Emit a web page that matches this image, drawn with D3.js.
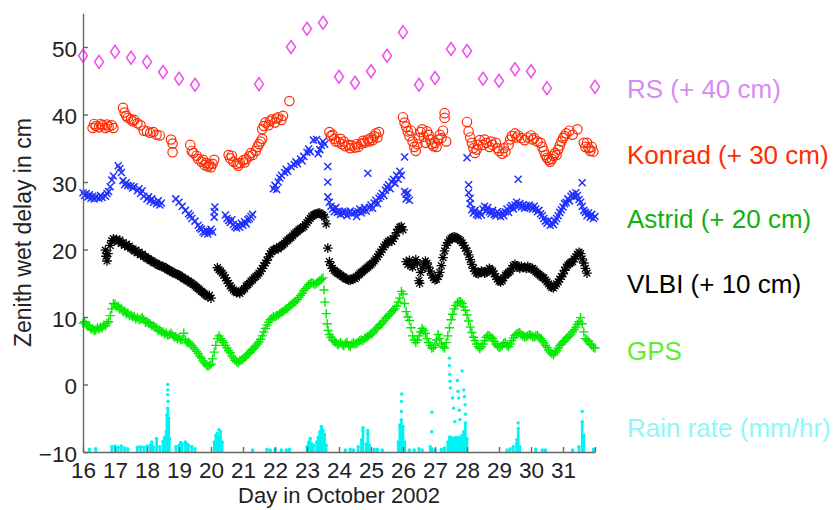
<!DOCTYPE html>
<html>
<head>
<meta charset="utf-8">
<script src="https://cdn.jsdelivr.net/npm/d3@7"></script>
<style>
	body { margin: 0; background: #fff; }
	svg { display: block; font-family: 'Liberation Sans', Arial, Helvetica, sans-serif; }
</style>
</head>
<body>
<svg width="838" height="510"></svg>
<script>
// [day in October 2002, zenith wet delay in cm incl. offset]
let rsPoints = [
	[16.0,48.7],[16.5,47.8],[17.0,49.3],[17.5,48.4],[18.0,47.8],[18.5,46.3],[19.0,45.3],[19.5,44.4],
	[21.5,44.5],[22.5,50.0],[23.0,52.7],[23.5,53.6],[24.0,45.6],[24.5,44.7],[25.0,46.4],[25.5,48.7],
	[26.0,52.2],[26.5,44.4],[27.0,45.4],[27.5,49.7],[28.0,49.4],[28.5,45.3],[29.0,45.0],[29.5,46.7],
	[30.0,46.4],[30.5,43.9],[32.0,44.1]
]

let konradPoints = [
	[16.3,38.0],[16.35,38.6],[16.4,38.3],[16.5,38.1],[16.55,38.6],[16.6,38.4],[16.7,38.0],[16.75,38.5],[16.8,38.2],[16.9,38.4],[16.95,38.0],
	[17.25,41.0],[17.3,40.3],[17.35,39.8],[17.4,39.5],[17.5,39.3],[17.55,39.0],[17.6,39.2],[17.7,38.7],[17.8,38.4],[17.9,37.6],[18.0,37.5],
	[18.1,37.3],[18.2,37.4],[18.3,37.0],[18.4,36.9],[18.75,36.3],[18.8,35.7],[18.8,34.4],
	[19.35,35.5],[19.4,34.6],[19.45,34.3],[19.55,33.9],[19.6,33.4],[19.7,33.0],[19.75,33.3],[19.8,32.5],[19.85,32.8],[19.9,32.3],[19.95,32.6],
	[20.0,32.2],[20.05,32.7],[20.1,33.3],
	[20.55,34.0],[20.6,33.5],[20.65,33.9],[20.7,33.0],[20.8,32.7],[20.85,32.4],[20.9,32.8],[21.0,33.2],[21.05,32.9],[21.1,33.4],[21.2,33.8],
	[21.25,34.3],[21.3,34.0],[21.4,34.6],[21.45,35.2],[21.5,35.6],[21.55,36.0],[21.6,36.4],
	[21.6,37.8],[21.65,38.3],[21.7,38.8],[21.8,38.4],[21.85,39.0],[21.9,39.3],[22.0,38.8],[22.05,39.4],[22.1,39.6],[22.2,39.2],[22.25,39.8],[22.45,42.0],
	[23.7,37.4],[23.75,36.8],[23.8,37.0],[23.85,36.4],[23.9,36.0],[24.0,35.9],[24.05,36.4],[24.1,35.6],[24.15,36.0],[24.2,35.3],[24.3,35.5],
	[24.35,35.0],[24.4,35.4],[24.5,35.1],[24.55,35.6],[24.6,35.2],[24.7,35.7],[24.75,36.1],[24.8,35.8],[24.9,36.3],[24.95,36.0],[25.0,36.5],
	[25.05,36.2],[25.1,36.8],[25.15,37.2],[25.2,36.6],[25.25,37.4],
	[26.0,39.6],[26.05,38.8],[26.1,38.2],[26.15,37.5],[26.2,36.8],[26.25,37.6],[26.3,36.0],[26.35,35.2],[26.4,34.6],[26.45,35.6],[26.5,36.5],
	[26.55,37.4],[26.6,37.8],[26.65,36.7],[26.7,35.8],[26.75,37.5],[26.8,37.0],[26.85,36.3],[26.9,35.6],[26.95,35.3],[27.0,35.8],[27.05,35.2],
	[27.1,36.3],[27.15,37.0],[27.2,36.5],[27.25,37.6],[27.3,39.5],[27.3,40.2],[27.35,36.0],
	[28.0,38.9],[28.05,37.5],[28.1,36.6],[28.15,35.8],[28.2,35.0],[28.25,34.3],[28.3,34.8],[28.35,35.5],[28.4,36.2],[28.5,35.5],[28.55,36.3],
	[28.6,35.8],[28.7,35.2],[28.75,36.0],[28.8,35.5],[28.9,35.8],[28.95,35.0],[29.0,34.6],[29.1,34.2],[29.15,35.0],[29.2,34.5],[29.3,35.5],
	[29.35,36.3],[29.4,36.8],[29.5,37.2],[29.55,36.6],[29.6,36.9],[29.7,36.5],[29.8,36.2],[29.9,36.6],[30.0,36.9],[30.05,36.3],[30.1,36.5],
	[30.2,36.0],[30.3,35.8],[30.35,35.2],[30.4,34.6],[30.45,34.0],[30.5,33.6],[30.55,33.3],[30.6,33.0],[30.65,33.4],[30.7,33.9],[30.75,34.3],
	[30.8,34.0],[30.85,34.8],[30.9,35.4],[30.95,36.0],[31.0,36.5],[31.05,36.8],[31.1,37.2],[31.2,37.6],[31.3,37.0],[31.45,37.8],
	[31.65,35.8],[31.7,35.2],[31.75,35.8],[31.8,35.0],[31.85,34.6],[31.9,35.2],[31.95,34.5]
]

let astridPoints = [
	[16.0,28.4],[16.05,28.0],[16.1,28.3],[16.15,27.8],[16.2,28.1],[16.25,27.6],[16.3,27.9],[16.35,27.5],[16.4,27.8],[16.5,27.6],[16.55,28.0],
	[16.6,27.7],[16.7,27.9],[16.75,28.3],[16.8,28.6],[16.85,29.3],[16.9,30.3],[16.95,30.9],
	[17.1,32.4],[17.15,32.0],[17.2,31.4],[17.25,30.2],[17.3,29.6],[17.35,29.9],[17.4,29.5],[17.5,29.4],[17.55,29.1],[17.6,29.3],[17.7,28.7],
	[17.75,29.0],[17.8,28.3],[17.85,28.7],[17.9,27.9],[18.0,27.5],[18.05,27.8],[18.1,27.2],[18.15,27.5],[18.2,27.0],[18.3,26.8],[18.35,27.2],
	[18.4,26.6],[18.45,26.9],
	[18.9,27.5],[19.0,27.0],[19.1,26.4],[19.2,25.8],[19.3,25.3],[19.35,25.0],[19.4,24.6],[19.5,24.2],[19.6,23.6],[19.65,23.2],[19.7,23.0],
	[19.75,22.6],[19.8,22.4],[19.85,22.8],[19.9,22.3],[19.95,22.7],[20.0,23.0],[20.05,22.6],[20.1,24.8],[20.1,25.6],[20.12,26.3],
	[20.45,25.1],[20.5,24.6],[20.55,24.3],[20.6,24.0],[20.65,24.4],[20.7,23.7],[20.75,23.4],[20.8,23.2],[20.85,23.6],[20.9,23.3],[20.95,23.9],
	[21.0,23.6],[21.05,24.1],[21.1,23.8],[21.15,24.4],[21.2,24.6],[21.25,24.9],[21.3,25.2],
	[21.95,29.0],[22.0,29.5],[22.05,28.9],[22.1,30.0],[22.15,30.6],[22.2,31.0],[22.3,31.4],[22.35,31.9],[22.4,31.6],[22.5,32.3],[22.6,32.6],
	[22.65,33.0],[22.7,32.7],[22.8,33.4],[22.85,33.1],[22.9,33.8],[23.0,34.4],[23.05,34.9],[23.1,34.5],[23.2,36.2],[23.3,36.3],[23.35,34.2],
	[23.4,34.8],[23.45,35.4],[23.5,36.0],[23.55,35.6],[23.65,32.3],[23.65,30.0],[23.65,27.8],
	[23.7,27.0],[23.75,26.4],[23.8,26.0],[23.85,25.6],[23.9,26.2],[23.95,25.5],[24.0,25.7],[24.05,25.2],[24.1,25.6],[24.15,25.3],[24.2,25.6],
	[24.25,25.0],[24.3,25.4],[24.35,25.7],[24.4,25.3],[24.5,25.5],[24.55,24.9],[24.6,25.6],[24.65,26.0],[24.7,25.4],[24.75,25.8],[24.8,26.2],
	[24.85,25.7],[24.9,31.3],[24.95,26.2],[25.0,26.6],[25.05,26.1],[25.1,26.9],[25.15,27.3],[25.2,26.8],[25.25,27.6],[25.3,27.9],[25.35,28.3],
	[25.4,28.0],[25.45,28.8],[25.5,29.2],[25.55,29.6],[25.6,29.0],[25.65,30.0],[25.7,30.4],[25.75,29.8],[25.8,31.0],[25.85,30.4],[25.9,31.6],
	[25.95,31.0],[26.05,33.7],[26.05,28.6],[26.1,28.2],[26.1,27.5],[26.15,28.4],[26.2,27.3],
	[28.0,33.6],[28.05,29.6],[28.05,28.4],[28.1,27.6],[28.1,26.8],[28.15,25.9],[28.2,25.4],[28.25,25.8],[28.3,25.2],[28.35,25.0],[28.4,25.5],
	[28.45,25.1],[28.5,26.0],[28.55,26.4],[28.6,25.7],[28.65,26.2],[28.7,25.6],[28.75,25.3],[28.8,25.8],[28.85,25.2],[28.9,25.0],[28.95,25.6],
	[29.0,25.3],[29.05,24.9],[29.1,25.4],[29.15,25.0],[29.2,25.6],[29.25,26.0],[29.3,25.5],[29.35,26.2],[29.4,26.5],[29.45,26.0],[29.5,26.6],
	[29.55,27.0],[29.6,26.4],[29.6,30.4],[29.65,26.8],[29.7,26.3],[29.75,26.6],[29.8,26.1],[29.85,26.5],[29.9,26.2],[29.95,26.6],[30.0,26.3],
	[30.05,26.0],[30.1,26.4],[30.15,26.0],[30.2,25.6],[30.25,25.8],[30.3,25.3],[30.35,25.0],[30.4,24.6],[30.45,24.2],[30.5,23.9],[30.55,24.3],
	[30.6,23.6],[30.65,24.0],[30.7,23.7],[30.75,24.2],[30.8,24.6],[30.85,25.0],[30.9,25.5],[30.95,25.9],[31.0,26.3],[31.05,26.8],[31.1,27.0],
	[31.15,27.5],[31.2,27.2],[31.25,27.9],[31.3,28.2],[31.35,27.8],[31.4,28.4],[31.45,28.0],[31.6,29.9],[31.5,27.4],[31.55,27.0],[31.6,26.4],
	[31.65,25.8],[31.7,25.5],[31.75,25.0],[31.8,25.4],[31.85,24.8],[31.9,25.2],[31.95,24.6],[32.0,24.9]
]

let vlbiPoints = [
	[16.7,19.9],[16.72,19.0],[16.75,18.3],[16.78,19.4],[16.85,20.6],[16.9,21.3],[16.95,21.6],[17.0,21.4],[17.05,21.5],[17.1,21.2],[17.15,21.4],
	[17.2,20.9],[17.25,21.0],[17.3,20.6],[17.35,20.8],[17.4,20.4],[17.45,20.5],[17.5,20.2],[17.55,20.0],[17.6,19.8],[17.65,19.9],[17.7,19.5],
	[17.75,19.6],[17.8,19.2],[17.85,19.3],[17.9,19.0],[17.95,18.9],[18.0,18.7],[18.05,18.6],[18.1,18.4],[18.15,18.3],[18.2,18.1],[18.25,18.0],
	[18.3,17.9],[18.35,17.7],[18.4,17.6],[18.45,17.5],[18.5,17.5],[18.55,17.3],[18.6,17.2],[18.65,17.0],[18.7,16.9],[18.75,16.8],[18.8,16.6],
	[18.85,16.5],[18.9,16.4],[18.95,16.3],[19.0,16.2],[19.05,16.0],[19.1,15.9],[19.15,15.7],[19.2,15.6],[19.25,15.4],[19.3,15.3],[19.35,15.1],
	[19.4,15.0],[19.45,14.8],[19.5,14.6],[19.55,14.4],[19.6,14.2],[19.65,14.0],[19.7,13.8],[19.75,13.6],[19.8,13.4],[19.85,13.2],[19.9,13.0],
	[19.95,13.2],[20.0,12.8],
	[20.2,17.3],[20.25,17.0],[20.3,16.8],[20.35,16.5],[20.4,16.2],[20.45,15.8],[20.5,15.4],[20.55,15.0],[20.6,14.6],[20.65,14.3],[20.7,14.0],
	[20.75,13.8],[20.8,13.6],[20.85,13.7],[20.9,13.5],[20.95,13.8],[21.0,14.0],[21.05,14.2],[21.1,14.6],[21.15,14.8],[21.2,15.0],[21.25,15.3],
	[21.3,15.5],[21.35,15.8],[21.4,16.0],[21.45,16.2],[21.5,16.5],[21.55,16.8],[21.6,17.2],[21.65,17.6],[21.7,18.0],[21.75,18.4],[21.8,18.9],
	[21.85,19.4],[21.9,19.7],[21.95,19.9],[22.0,20.0],[22.05,20.2],[22.1,20.1],[22.15,20.4],[22.2,20.5],[22.25,20.7],[22.3,20.9],[22.35,21.2],
	[22.4,21.4],[22.45,21.6],[22.5,21.8],[22.55,22.0],[22.6,22.3],[22.65,22.5],[22.7,22.7],[22.75,22.9],[22.8,23.1],[22.85,23.2],[22.9,23.4],
	[22.95,23.7],[23.0,24.0],[23.05,24.3],[23.1,24.6],[23.15,24.9],[23.2,25.1],[23.25,25.2],[23.3,25.3],[23.35,25.4],[23.4,25.4],[23.45,25.2],
	[23.5,25.1],[23.55,24.8],[23.6,23.8],
	[23.65,20.2],[23.7,18.2],[23.75,17.6],[23.8,17.2],[23.85,16.9],[23.9,16.7],[23.95,16.5],[24.0,16.4],[24.05,16.2],[24.1,16.0],[24.15,15.9],
	[24.2,15.7],[24.25,15.6],[24.3,15.5],[24.35,15.4],[24.4,15.6],[24.45,15.8],[24.5,15.7],[24.55,15.9],[24.6,16.2],[24.65,16.4],[24.7,16.6],
	[24.75,16.8],[24.8,17.0],[24.85,17.2],[24.9,17.4],[24.95,17.6],[25.0,17.8],[25.05,18.0],[25.1,18.3],[25.15,18.6],[25.2,18.9],[25.25,19.3],
	[25.3,19.6],[25.35,20.0],[25.4,20.4],[25.45,20.7],[25.5,21.0],[25.55,21.2],[25.6,21.4],[25.65,21.2],[25.7,21.6],[25.75,22.0],[25.8,22.5],
	[25.85,23.0],[25.9,23.3],[25.95,23.4],[26.0,22.9],
	[26.1,18.2],[26.15,17.8],[26.2,18.4],[26.25,17.6],[26.3,17.4],[26.35,18.0],[26.4,18.5],[26.45,18.0],[26.5,15.4],[26.52,15.0],[26.55,16.6],
	[26.6,17.2],[26.65,17.8],[26.7,18.3],[26.75,18.0],[26.8,17.4],[26.85,16.8],[26.9,16.2],[26.95,15.8],[27.0,15.5],[27.05,15.6],[27.1,16.0],
	[27.15,16.6],[27.2,17.6],[27.25,18.8],[27.3,19.8],[27.35,20.6],[27.4,21.0],[27.45,21.4],[27.5,21.6],[27.55,21.8],[27.6,21.9],[27.65,21.8],
	[27.7,21.6],[27.75,21.5],[27.8,21.3],[27.85,21.0],[27.9,20.6],[27.95,20.2],[28.0,19.8],[28.05,19.2],[28.1,18.5],[28.15,17.8],[28.2,17.2],
	[28.25,16.8],[28.3,16.5],[28.35,16.4],[28.4,16.6],[28.45,16.8],[28.5,16.7],[28.55,16.5],[28.6,16.6],[28.65,16.9],[28.7,17.2],[28.75,17.0],
	[28.8,16.8],[28.85,16.4],[28.9,16.0],[28.95,15.6],[29.0,15.3],[29.05,15.2],[29.1,15.4],[29.15,15.8],[29.2,16.2],[29.25,16.4],[29.3,16.6],
	[29.35,16.8],[29.4,17.2],[29.45,17.6],[29.5,17.8],[29.55,17.6],[29.6,17.4],[29.65,17.2],[29.7,17.5],[29.75,17.3],[29.8,17.4],[29.85,17.2],
	[29.9,17.5],[29.95,17.3],[30.0,17.1],[30.05,17.2],[30.1,17.0],[30.15,16.7],[30.2,16.5],[30.25,16.3],[30.3,16.1],[30.35,15.9],[30.4,15.8],
	[30.45,15.5],[30.5,15.2],[30.55,14.9],[30.6,14.6],[30.65,14.4],[30.7,14.3],[30.75,14.6],[30.8,14.9],[30.85,15.2],[30.9,15.6],[30.95,16.0],
	[31.0,16.4],[31.05,16.9],[31.1,17.4],[31.15,17.7],[31.2,17.9],[31.25,18.1],[31.3,18.2],[31.35,18.6],[31.4,18.9],[31.45,19.3],[31.5,19.6],
	[31.55,19.4],[31.6,18.6],[31.65,18.0],[31.7,17.2],[31.75,16.5]
]

let gpsPoints = [
	[16.0,9.1],[16.05,9.3],[16.1,8.9],[16.15,8.6],[16.2,8.6],[16.25,8.2],[16.3,8.3],[16.35,8.0],[16.4,8.1],[16.45,8.4],[16.5,8.2],[16.55,8.5],
	[16.6,8.4],[16.65,8.8],[16.7,8.7],[16.75,9.1],[16.8,9.3],[16.85,10.2],[16.9,11.2],[16.95,12.0],[17.0,11.9],[17.05,11.5],[17.1,11.6],
	[17.15,11.2],[17.2,11.2],[17.25,10.8],[17.3,10.9],[17.35,10.5],[17.4,10.6],[17.45,10.2],[17.5,10.3],[17.55,10.0],[17.6,10.1],[17.65,9.7],
	[17.7,9.9],[17.75,9.6],[17.8,9.7],[17.85,9.9],[17.9,9.6],[17.95,9.2],[18.0,9.3],[18.05,9.1],[18.1,9.0],[18.15,8.7],[18.2,8.7],[18.25,8.5],
	[18.3,8.4],[18.35,8.0],[18.4,8.1],[18.45,7.8],[18.5,7.8],[18.55,7.5],[18.6,7.6],[18.65,7.3],[18.7,7.4],[18.75,7.6],[18.8,7.3],[18.85,7.0],
	[18.9,7.1],[18.95,6.8],[19.0,6.9],[19.05,6.6],[19.1,6.7],[19.15,7.6],[19.2,6.6],[19.25,6.2],[19.3,6.3],[19.35,6.0],[19.4,5.8],[19.45,5.5],
	[19.5,5.2],[19.55,4.9],[19.6,4.6],[19.65,4.2],[19.7,3.9],[19.75,3.5],[19.8,3.2],[19.85,2.9],[19.9,2.7],[19.95,2.8],[20.0,3.0],[20.05,3.8],
	[20.1,4.8],[20.15,5.8],[20.2,6.8],[20.25,7.2],[20.3,6.8],[20.35,6.5],[20.4,6.2],[20.45,5.8],[20.5,5.4],[20.55,5.0],[20.6,4.7],[20.65,4.2],
	[20.7,3.9],[20.75,3.6],[20.8,3.4],[20.85,3.2],[20.9,3.5],[20.95,3.6],[21.0,3.8],[21.05,4.0],[21.1,4.2],[21.15,4.5],[21.2,4.7],[21.25,5.0],
	[21.3,5.2],[21.35,5.4],[21.4,5.7],[21.45,6.0],[21.5,6.3],[21.55,6.7],[21.6,7.2],[21.65,7.8],[21.7,8.3],[21.75,8.8],[21.8,9.2],[21.85,9.6],
	[21.9,9.8],[21.95,10.1],[22.0,10.0],[22.05,10.2],[22.1,10.3],[22.15,10.5],[22.2,10.7],[22.25,10.8],[22.3,11.0],[22.35,11.2],[22.4,11.3],
	[22.45,11.6],[22.5,11.8],[22.55,12.0],[22.6,12.2],[22.65,12.3],[22.7,12.6],[22.75,12.9],[22.8,13.2],[22.85,13.5],[22.9,13.9],[22.95,14.2],
	[23.0,14.5],[23.05,14.8],[23.1,14.9],[23.15,15.1],[23.2,15.0],[23.25,14.8],[23.3,15.0],[23.35,15.2],[23.4,15.4],[23.45,15.6],[23.5,15.8],
	[23.53,14.0],[23.56,12.2],[23.6,10.5],[23.63,9.0],[23.66,8.0],[23.7,7.4],[23.75,7.0],[23.8,6.6],[23.85,6.4],[23.9,6.2],[23.95,5.9],
	[24.0,6.0],[24.05,6.2],[24.1,5.9],[24.15,5.7],[24.2,6.1],[24.25,6.3],[24.3,5.8],[24.35,5.6],[24.4,6.0],[24.45,6.2],[24.5,6.0],[24.55,6.1],
	[24.6,6.3],[24.65,6.5],[24.7,6.6],[24.75,6.5],[24.8,6.8],[24.85,7.0],[24.9,7.1],[24.95,7.3],[25.0,7.5],[25.05,7.6],[25.1,7.9],[25.15,8.2],
	[25.2,8.4],[25.25,8.7],[25.3,8.9],[25.35,9.1],[25.4,9.4],[25.45,9.8],[25.5,10.0],[25.55,10.2],[25.6,10.5],[25.65,10.8],[25.7,11.0],
	[25.75,11.2],[25.8,11.6],[25.85,12.2],[25.9,12.8],[25.95,13.8],[26.0,13.4],[26.05,12.0],[26.1,10.8],[26.15,10.0],[26.2,9.5],[26.25,8.4],
	[26.3,7.2],[26.35,6.6],[26.4,6.2],[26.45,6.6],[26.5,7.2],[26.55,7.8],[26.6,8.3],[26.65,8.0],[26.7,7.6],[26.75,6.8],[26.8,6.2],[26.85,5.8],
	[26.9,5.4],[26.95,5.5],[27.0,5.8],[27.05,6.6],[27.1,7.4],[27.15,6.8],[27.2,6.0],[27.25,5.6],[27.3,5.4],[27.35,6.2],[27.4,7.2],[27.45,8.4],
	[27.5,9.6],[27.55,10.4],[27.6,11.2],[27.65,11.7],[27.7,12.1],[27.75,12.3],[27.8,12.3],[27.85,12.0],[27.9,11.5],[27.95,11.0],[28.0,10.3],
	[28.05,9.4],[28.1,8.5],[28.15,7.7],[28.2,7.0],[28.25,6.5],[28.3,6.0],[28.35,5.6],[28.4,5.3],[28.45,5.6],[28.5,6.0],[28.55,6.5],[28.6,7.0],
	[28.65,7.3],[28.7,7.2],[28.75,7.0],[28.8,6.8],[28.85,6.4],[28.9,6.0],[28.95,5.7],[29.0,5.5],[29.05,5.6],[29.1,5.8],[29.15,6.1],[29.2,6.2],
	[29.25,5.8],[29.3,5.6],[29.35,6.0],[29.4,6.5],[29.45,6.9],[29.5,7.3],[29.55,7.5],[29.6,7.6],[29.65,7.7],[29.7,7.4],[29.75,7.2],[29.8,7.0],
	[29.85,7.1],[29.9,7.2],[29.95,7.4],[30.0,7.3],[30.05,7.1],[30.1,7.0],[30.15,7.2],[30.2,7.3],[30.25,7.0],[30.3,6.8],[30.35,6.5],[30.4,6.2],
	[30.45,5.8],[30.5,5.5],[30.55,5.1],[30.6,4.8],[30.65,4.6],[30.7,4.4],[30.75,4.7],[30.8,5.0],[30.85,5.4],[30.9,5.8],[30.95,6.0],[31.0,6.3],
	[31.05,6.5],[31.1,6.8],[31.15,7.0],[31.2,7.2],[31.25,7.5],[31.3,7.8],[31.35,8.1],[31.4,8.5],[31.45,8.9],[31.5,9.3],[31.55,9.9],[31.6,9.0],
	[31.65,7.8],[31.7,6.8],[31.75,6.6],[31.8,6.4],[31.85,6.0],[31.9,5.8],[31.95,5.5],[32.0,5.4]
]

// [day, rain rate in mm/hr], drawn from rainBase upward
let rainBars = [
	[16.2,0.4],[16.4,0.5],[16.9,0.8],[17.0,0.9],[17.1,0.7],[17.2,0.9],[17.3,0.6],[17.4,0.5],
	[17.7,0.7],[17.8,0.8],[17.9,0.7],[18.0,0.9],[18.1,1.0],[18.15,1.5],[18.2,0.8],[18.3,2.0],[18.4,0.8],
	[18.5,1.6],[18.55,2.2],[18.6,3.0],[18.62,5.5],[18.65,6.5],[18.68,5.0],[18.7,2.0],
	[18.9,0.8],[19.0,1.0],[19.05,1.4],[19.1,1.2],[19.2,1.5],[19.25,1.2],[19.3,1.0],[19.4,0.8],[19.5,0.5],
	[20.1,1.5],[20.15,2.5],[20.2,2.8],[20.25,2.2],[20.3,3.0],[20.35,1.5],
	[21.3,0.3],[21.75,0.4],[21.85,0.3],[22.0,0.4],[22.2,0.3],[22.35,0.3],[22.45,0.4],
	[23.0,0.8],[23.05,1.5],[23.1,2.0],[23.15,1.2],[23.2,1.0],[23.3,1.5],[23.35,2.2],[23.4,3.0],[23.45,3.5],[23.5,3.2],[23.55,2.6],[23.6,1.0],
	[24.2,0.3],[24.35,0.4],[24.45,0.3],[24.6,0.8],[24.7,1.8],[24.75,3.2],[24.85,1.2],[24.9,2.8],[24.95,1.0],[25.1,0.4],[25.2,0.4],[25.35,0.3],
	[25.85,1.5],[25.9,4.0],[25.95,4.8],[26.0,3.8],[26.05,1.5],
	[26.2,0.3],[26.35,0.3],[26.5,0.5],[26.6,0.3],[26.85,0.8],[26.9,0.5],[27.0,0.3],[27.2,0.4],[27.3,0.6],
	[27.4,1.5],[27.45,2.2],[27.5,2.2],[27.55,2.0],[27.6,2.0],[27.65,2.2],[27.7,2.0],[27.75,2.2],[27.8,2.0],[27.85,2.5],[27.9,3.0],[27.95,4.3],[28.0,2.0],
	[29.25,0.3],[29.35,0.5],[29.45,0.8],[29.55,1.3],[29.6,3.5],[29.65,0.8],
	[30.15,0.4],[30.35,0.3],[30.45,0.3],[31.3,0.3],[31.5,0.8],[31.6,4.5],[31.65,2.5],[31.95,0.4]
]

let rainDots = [
	[18.65,8.5],[18.65,9.2],[18.65,10.0],[18.66,7.5],[20.25,3.3],[23.45,3.8],[24.75,3.6],[24.9,3.2],
	[25.95,6.0],[25.95,7.5],[25.96,8.6],[26.9,5.9],[26.9,3.0],
	[27.45,13.9],[27.45,12.8],[27.46,11.5],[27.47,10.5],[27.48,9.5],[27.55,8.0],[27.58,6.5],[27.62,4.5],
	[27.7,10.6],[27.72,9.0],[27.74,8.0],[27.76,6.2],[27.78,4.8],[27.85,12.0],[27.9,9.2],[27.92,8.2],[27.94,7.0],[27.95,5.6],
	[29.6,4.3],[29.55,1.8],[31.6,6.0]
]
let rainBase = -10

let dayTicks = [16,17,18,19,20,21,22,23,24,25,26,27,28,29,30,31,32]
let dayLabels = ['16','17','18','19','20','21','22','23','24','25','26','27','28','29','30','31','']
let delayTicks = [-10,0,10,20,30,40,50]

let seriesNames = ['RS (+ 40 cm)', 'Konrad (+ 30 cm)', 'Astrid (+ 20 cm)', 'VLBI (+ 10 cm)', 'GPS', 'Rain rate (mm/hr)']
let labelColors = ['#d68cf2', '#ff2d00', '#10b010', '#000000', '#5eee2e', '#8ef8f8']
let labelLevels = [43.8, 34.1, 24.5, 14.9, 5.0, -6.4]

let svg = d3.select('svg')
let x = d3.scaleLinear().domain([16, 32]).range([83, 595])
let y = d3.scaleLinear().domain([-10, 55]).range([452, 13.25])

let plot = svg.append('g')

function markers(points, shape, color, width) {
	plot.append('g')
		.selectAll('path')
		.data(points)
		.join('path')
		.attr('transform', d => 'translate(' + x(d[0]) + ',' + y(d[1]) + ')')
		.attr('d', shape)
		.attr('fill', 'none')
		.attr('stroke', color)
		.attr('stroke-width', width)
}

let diamond = 'M0,-6.5L4.5,0L0,6.5L-4.5,0Z'
let circle = 'M4.7,0A4.7,4.7 0 1,1 -4.7,0A4.7,4.7 0 1,1 4.7,0Z'
let cross = 'M-3.5,-3.5L3.5,3.5M-3.5,3.5L3.5,-3.5'
let asterisk = 'M-4.8,0H4.8M0,-4.8V4.8M-3.4,-3.4L3.4,3.4M-3.4,3.4L3.4,-3.4'
let plus = 'M-4.6,0H4.6M0,-4.6V4.6'

markers(rsPoints, diamond, '#f04cf0', 1.5)
markers(konradPoints, circle, '#ff2a00', 1.2)
markers(astridPoints, cross, '#1f30ff', 1.5)
markers(vlbiPoints, asterisk, '#000000', 1.3)
markers(gpsPoints, plus, '#00ea00', 1.4)

plot.append('g')
	.selectAll('line')
	.data(rainBars)
	.join('line')
	.attr('x1', d => x(d[0]))
	.attr('x2', d => x(d[0]))
	.attr('y1', y(rainBase))
	.attr('y2', d => y(rainBase + d[1]))
	.attr('stroke', '#00f2f2')
	.attr('stroke-width', 2.6)

plot.append('g')
	.selectAll('circle')
	.data(rainBars.concat(rainDots))
	.join('circle')
	.attr('cx', d => x(d[0]))
	.attr('cy', d => y(rainBase + d[1]))
	.attr('r', 1.7)
	.attr('fill', '#00f2f2')

let yAxis = svg.append('g')
	.attr('transform', 'translate(83,0)')
	.call(d3.axisLeft(y).tickValues(delayTicks).tickSizeInner(-5).tickSizeOuter(0).tickPadding(6)
		.tickFormat(d => d < 0 ? '\u2212' + Math.abs(d) : String(d)))

let xAxis = svg.append('g')
	.attr('transform', 'translate(0,452)')
	.call(d3.axisBottom(x).tickValues(dayTicks).tickSizeInner(-5).tickSizeOuter(0).tickPadding(10)
		.tickFormat((d, i) => dayLabels[i]))

for (let axis of [yAxis, xAxis]) {
	axis.attr('font-size', 22.5).attr('font-family', null)
	axis.selectAll('path, line').attr('stroke', '#666').attr('stroke-width', 1.4)
	axis.selectAll('text').attr('fill', '#222')
}
yAxis.selectAll('text').attr('dy', '0.42em')

svg.append('text')
	.attr('x', (x.range()[0] + x.range()[1]) / 2)
	.attr('y', 503)
	.attr('text-anchor', 'middle')
	.attr('font-size', 22)
	.attr('fill', '#222')
	.text('Day in October 2002')

svg.append('text')
	.attr('transform', 'translate(31,' + (y.range()[0] + y.range()[1]) / 2 + ') rotate(-90)')
	.attr('text-anchor', 'middle')
	.attr('font-size', 23)
	.attr('fill', '#222')
	.text('Zenith wet delay in cm')

svg.append('g')
	.selectAll('text')
	.data(seriesNames)
	.join('text')
	.attr('x', 627)
	.attr('y', (d, i) => y(labelLevels[i]))
	.attr('dy', '0.36em')
	.attr('font-size', 26)
	.attr('fill', (d, i) => labelColors[i])
	.text(d => d)
</script>
</body>
</html>
